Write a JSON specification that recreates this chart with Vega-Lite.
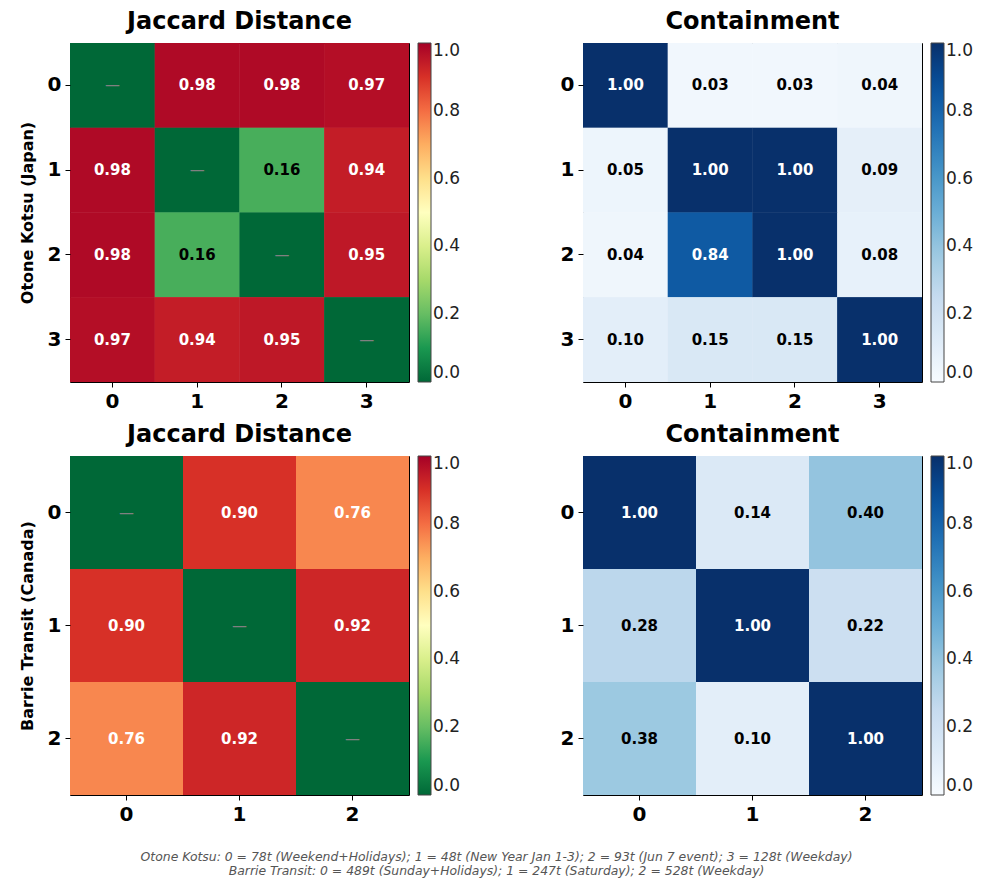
{
  "$schema": "https://vega.github.io/schema/vega-lite/v6.json",
  "padding": {"left": 18, "top": 9, "right": 5, "bottom": 5},
  "background": "white",
  "title": {
    "text": ["Otone Kotsu: 0 = 78t (Weekend+Holidays); 1 = 48t (New Year Jan 1-3); 2 = 93t (Jun 7 event); 3 = 128t (Weekday)", "Barrie Transit: 0 = 489t (Sunday+Holidays); 1 = 247t (Saturday); 2 = 528t (Weekday)"],
    "orient": "bottom", "anchor": "middle", "fontSize": 12.4, "fontStyle": "italic", "fontWeight": "normal",
    "color": "#555555", "font": "DejaVu Sans", "offset": 26, "lineHeight": 14
  },
  "datasets": {
    "oj": [
      {"r": 0, "c": 0, "v": 0}, {"r": 0, "c": 1, "v": 0.98}, {"r": 0, "c": 2, "v": 0.98}, {"r": 0, "c": 3, "v": 0.97},
      {"r": 1, "c": 0, "v": 0.98}, {"r": 1, "c": 1, "v": 0}, {"r": 1, "c": 2, "v": 0.16}, {"r": 1, "c": 3, "v": 0.94},
      {"r": 2, "c": 0, "v": 0.98}, {"r": 2, "c": 1, "v": 0.16}, {"r": 2, "c": 2, "v": 0}, {"r": 2, "c": 3, "v": 0.95},
      {"r": 3, "c": 0, "v": 0.97}, {"r": 3, "c": 1, "v": 0.94}, {"r": 3, "c": 2, "v": 0.95}, {"r": 3, "c": 3, "v": 0}
    ],
    "oc": [
      {"r": 0, "c": 0, "v": 1.0}, {"r": 0, "c": 1, "v": 0.03}, {"r": 0, "c": 2, "v": 0.03}, {"r": 0, "c": 3, "v": 0.04},
      {"r": 1, "c": 0, "v": 0.05}, {"r": 1, "c": 1, "v": 1.0}, {"r": 1, "c": 2, "v": 1.0}, {"r": 1, "c": 3, "v": 0.09},
      {"r": 2, "c": 0, "v": 0.04}, {"r": 2, "c": 1, "v": 0.84}, {"r": 2, "c": 2, "v": 1.0}, {"r": 2, "c": 3, "v": 0.08},
      {"r": 3, "c": 0, "v": 0.10}, {"r": 3, "c": 1, "v": 0.15}, {"r": 3, "c": 2, "v": 0.15}, {"r": 3, "c": 3, "v": 1.0}
    ],
    "bj": [
      {"r": 0, "c": 0, "v": 0}, {"r": 0, "c": 1, "v": 0.90}, {"r": 0, "c": 2, "v": 0.76},
      {"r": 1, "c": 0, "v": 0.90}, {"r": 1, "c": 1, "v": 0}, {"r": 1, "c": 2, "v": 0.92},
      {"r": 2, "c": 0, "v": 0.76}, {"r": 2, "c": 1, "v": 0.92}, {"r": 2, "c": 2, "v": 0}
    ],
    "bc": [
      {"r": 0, "c": 0, "v": 1.0}, {"r": 0, "c": 1, "v": 0.14}, {"r": 0, "c": 2, "v": 0.40},
      {"r": 1, "c": 0, "v": 0.28}, {"r": 1, "c": 1, "v": 1.0}, {"r": 1, "c": 2, "v": 0.22},
      {"r": 2, "c": 0, "v": 0.38}, {"r": 2, "c": 1, "v": 0.10}, {"r": 2, "c": 2, "v": 1.0}
    ]
  },
  "vconcat": [
    {
      "hconcat": [
        {
          "width": 339, "height": 339,
          "title": "Jaccard Distance",
          "data": {"name": "oj"},
          "encoding": {
            "x": {"field": "c", "type": "ordinal", "axis": {"title": null}},
            "y": {"field": "r", "type": "ordinal", "axis": {"title": "Otone Kotsu (Japan)"}}
          },
          "layer": [
            {"mark": "rect", "encoding": {"color": {"field": "v", "type": "quantitative",
              "scale": {"domain": [0, 0.1, 0.2, 0.3, 0.4, 0.5, 0.6, 0.7, 0.8, 0.9, 1.0], "range": ["#006837", "#1a9850", "#66bd63", "#a6d96a", "#d9ef8b", "#ffffbf", "#fee08b", "#fdae61", "#f46d43", "#d73027", "#a50026"], "interpolate": "rgb"},
              "legend": {"values": [0, 0.2, 0.4, 0.6, 0.8, 1.0]}}}},
            {"mark": "rect", "encoding": {"color": {"field": "v", "type": "quantitative"}}},
            {"transform": [{"filter": "datum.r != datum.c"}], "mark": {"type": "text", "fontSize": 15, "fontWeight": "bold"},
              "encoding": {"text": {"field": "v", "type": "quantitative", "format": ".2f"},
                "color": {"condition": {"test": "datum.v > 0.5", "value": "white"}, "value": "black"}}},
            {"transform": [{"filter": "datum.r == datum.c"}], "mark": {"type": "text", "fontSize": 15, "fontWeight": "normal", "color": "gray", "text": "—"}, "encoding": {}}
          ]
        },
        {
          "width": 339, "height": 339,
          "title": "Containment",
          "data": {"name": "oc"},
          "encoding": {
            "x": {"field": "c", "type": "ordinal", "axis": {"title": null}},
            "y": {"field": "r", "type": "ordinal", "axis": {"title": null}}
          },
          "layer": [
            {"mark": "rect", "encoding": {"color": {"field": "v", "type": "quantitative",
              "scale": {"domain": [0, 0.125, 0.25, 0.375, 0.5, 0.625, 0.75, 0.875, 1.0], "range": ["#f7fbff", "#deebf7", "#c6dbef", "#9ecae1", "#6baed6", "#4292c6", "#2171b5", "#08519c", "#08306b"], "interpolate": "rgb"},
              "legend": {"values": [0, 0.2, 0.4, 0.6, 0.8, 1.0]}}}},
            {"mark": "rect", "encoding": {"color": {"field": "v", "type": "quantitative"}}},
            {"mark": {"type": "text", "fontSize": 15, "fontWeight": "bold"},
              "encoding": {"text": {"field": "v", "type": "quantitative", "format": ".2f"},
                "color": {"condition": {"test": "datum.v > 0.5", "value": "white"}, "value": "black"}}}
          ]
        }
      ],
      "spacing": 97,
      "resolve": {"scale": {"color": "independent"}, "legend": {"color": "independent"}}
    },
    {
      "hconcat": [
        {
          "width": 339, "height": 339,
          "title": "Jaccard Distance",
          "data": {"name": "bj"},
          "encoding": {
            "x": {"field": "c", "type": "ordinal", "axis": {"title": null}},
            "y": {"field": "r", "type": "ordinal", "axis": {"title": "Barrie Transit (Canada)"}}
          },
          "layer": [
            {"mark": "rect", "encoding": {"color": {"field": "v", "type": "quantitative",
              "scale": {"domain": [0, 0.1, 0.2, 0.3, 0.4, 0.5, 0.6, 0.7, 0.8, 0.9, 1.0], "range": ["#006837", "#1a9850", "#66bd63", "#a6d96a", "#d9ef8b", "#ffffbf", "#fee08b", "#fdae61", "#f46d43", "#d73027", "#a50026"], "interpolate": "rgb"},
              "legend": {"values": [0, 0.2, 0.4, 0.6, 0.8, 1.0]}}}},
            {"mark": "rect", "encoding": {"color": {"field": "v", "type": "quantitative"}}},
            {"transform": [{"filter": "datum.r != datum.c"}], "mark": {"type": "text", "fontSize": 15, "fontWeight": "bold"},
              "encoding": {"text": {"field": "v", "type": "quantitative", "format": ".2f"},
                "color": {"condition": {"test": "datum.v > 0.5", "value": "white"}, "value": "black"}}},
            {"transform": [{"filter": "datum.r == datum.c"}], "mark": {"type": "text", "fontSize": 15, "fontWeight": "normal", "color": "gray", "text": "—"}, "encoding": {}}
          ]
        },
        {
          "width": 339, "height": 339,
          "title": "Containment",
          "data": {"name": "bc"},
          "encoding": {
            "x": {"field": "c", "type": "ordinal", "axis": {"title": null}},
            "y": {"field": "r", "type": "ordinal", "axis": {"title": null}}
          },
          "layer": [
            {"mark": "rect", "encoding": {"color": {"field": "v", "type": "quantitative",
              "scale": {"domain": [0, 0.125, 0.25, 0.375, 0.5, 0.625, 0.75, 0.875, 1.0], "range": ["#f7fbff", "#deebf7", "#c6dbef", "#9ecae1", "#6baed6", "#4292c6", "#2171b5", "#08519c", "#08306b"], "interpolate": "rgb"},
              "legend": {"values": [0, 0.2, 0.4, 0.6, 0.8, 1.0]}}}},
            {"mark": "rect", "encoding": {"color": {"field": "v", "type": "quantitative"}}},
            {"mark": {"type": "text", "fontSize": 15, "fontWeight": "bold"},
              "encoding": {"text": {"field": "v", "type": "quantitative", "format": ".2f"},
                "color": {"condition": {"test": "datum.v > 0.5", "value": "white"}, "value": "black"}}}
          ]
        }
      ],
      "spacing": 97,
      "resolve": {"scale": {"color": "independent"}, "legend": {"color": "independent"}}
    }
  ],
  "spacing": 10,
  "config": {
    "font": "DejaVu Sans",
    "view": {"stroke": "black", "strokeWidth": 1},
    "title": {"fontSize": 24, "fontWeight": "bold", "font": "DejaVu Sans", "color": "black", "offset": 9},
    "axis": {
      "domain": false, "grid": false, "ticks": true, "tickColor": "black", "tickSize": 5,
      "labelFont": "DejaVu Sans", "labelFontSize": 20, "labelFontWeight": "bold", "labelColor": "black", "labelAngle": 0, "labelPadding": 4,
      "titleFont": "DejaVu Sans", "titleFontSize": 16, "titleFontWeight": "bold", "titleColor": "black", "titlePadding": 12
    },
    "legend": {
      "title": null, "gradientLength": 339, "gradientThickness": 13, "format": ".1f",
      "labelFont": "DejaVu Sans", "labelFontSize": 17, "labelColor": "#222", "labelOverlap": false, "labelOffset": 6, "labelBaseline": "middle",
      "gradientStrokeColor": "#444", "gradientStrokeWidth": 1, "offset": 9, "padding": 0
    }
  }
}
